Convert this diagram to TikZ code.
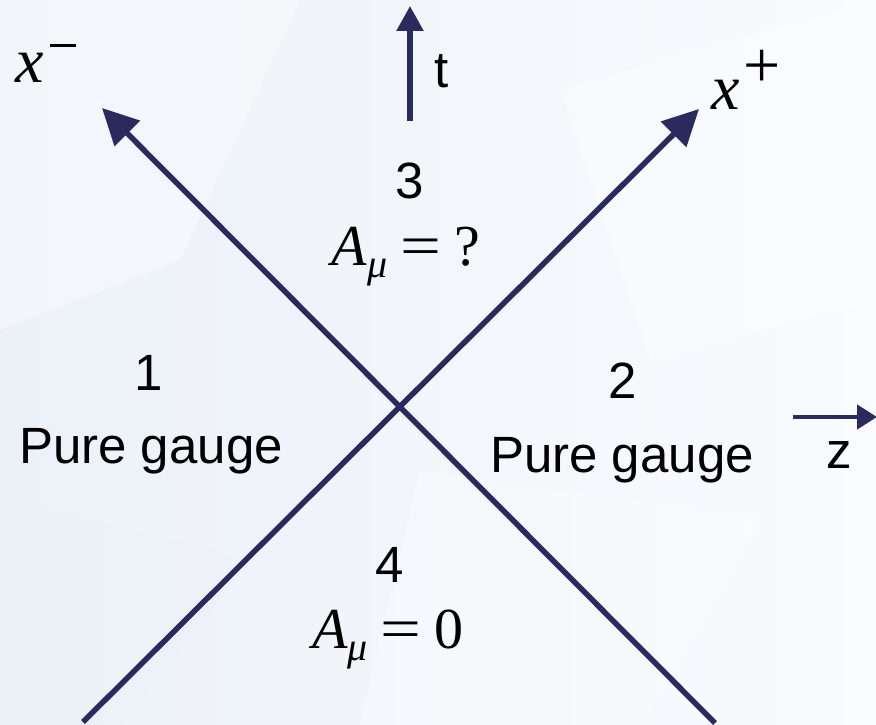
\documentclass[tikz,border=0pt]{standalone}
\usepackage{fontspec}
\usepackage{graphicx}
\setmainfont{Liberation Serif}
\newfontfamily\labsans{Liberation Sans}
\usetikzlibrary{arrows.meta}
\definecolor{navy}{RGB}{42,42,94}
\definecolor{bgA}{RGB}{236,241,248}
\definecolor{bgB}{RGB}{249,251,254}
\tikzset{
  axis/.style={draw=navy, line width=5.5pt, -{Triangle[length=36pt,width=35pt]}},
  smallaxis/.style={draw=navy, line width=5.5pt, -{Triangle[length=25pt,width=26pt]}},
  zaxis/.style={draw=navy, line width=4.5pt, -{Triangle[length=20pt,width=24pt]}},
  sanslab/.style={inner sep=0pt, anchor=base, font=\labsans\fontsize{51}{54}\selectfont},
  mathlab/.style={inner sep=0pt, anchor=base, font=\fontsize{58}{62}\selectfont},
  axlab/.style={inner sep=0pt, anchor=base west, font=\fontsize{64}{68}\selectfont}
}
\newcommand{\supminus}{\raisebox{35pt}{\rule{26pt}{2.6pt}}}
\newcommand{\supplus}{\raisebox{22pt}{\fontsize{66}{68}\selectfont +}}
\newcommand{\Amu}{\textit{A}\raisebox{-12pt}{\fontsize{40}{42}\selectfont\textit{μ}}}
\newcommand{\eqsp}{\hspace{13pt}\scalebox{1.25}[1]{=}\hspace{13pt}}
\begin{document}
\begin{tikzpicture}[x=1pt,y=-1pt]
\useasboundingbox (0,0) rectangle (876,725);
\shade[left color=bgA, right color=bgB] (0,0) rectangle (876,725);
\fill[white, opacity=0.35] (0,0) -- (300,0) -- (180,260) -- (0,330) -- cycle;
\fill[white, opacity=0.30] (560,90) -- (876,0) -- (876,300) -- (650,360) -- cycle;
\fill[white, opacity=0.25] (420,470) -- (760,520) -- (640,725) -- (360,725) -- cycle;
\fill[bgA, opacity=0.30] (0,500) -- (250,560) -- (120,725) -- (0,725) -- cycle;

% axis end points
\coordinate (pmStart) at (715,723);
\coordinate (pmEnd) at (102,108);
\coordinate (ppStart) at (83,722);
\coordinate (ppEnd) at (699,109);
\coordinate (tStart) at (410,121);
\coordinate (tEnd) at (410,6);
\coordinate (zStart) at (793,417);
\coordinate (zEnd) at (877,417);

\draw[axis] (pmStart) -- (pmEnd);
\draw[axis] (ppStart) -- (ppEnd);
\draw[smallaxis] (tStart) -- (tEnd);
\draw[zaxis] (zStart) -- (zEnd);

% labels
\node[axlab] (xm) at (15,82) {\textit{x}\hspace{6pt}\supminus};
\node[axlab] (xp) at (711,110) {\textit{x}\hspace{4pt}\supplus};
\node[sanslab, anchor=base west] (tl) at (434,88) {t};
\node[sanslab] (zl) at (839,468) {z};

\node[sanslab] (n3) at (410,198) {3};
\node[mathlab] (e3) at (406,265) {\Amu\eqsp?};

\node[sanslab] (n1) at (149,390) {1};
\node[sanslab] (g1) at (151,463) {Pure gauge};

\node[sanslab] (n2) at (623,398) {2};
\node[sanslab] (g2) at (622,472) {Pure gauge};

\node[sanslab] (n4) at (390,582) {4};
\node[mathlab] (e4) at (388,648) {\Amu\eqsp 0};
\end{tikzpicture}
\end{document}
